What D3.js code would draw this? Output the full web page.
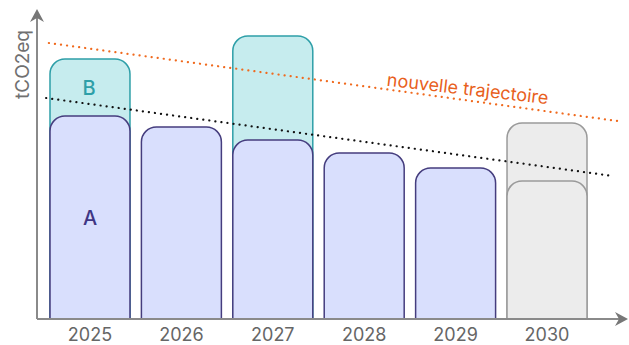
<!DOCTYPE html>
<html><head><meta charset="utf-8">
<script src="https://cdn.jsdelivr.net/npm/d3@7"></script>
<style>body{margin:0;background:#fff}svg{display:block}text{font-family:Inter,"Noto Sans",sans-serif}</style>
</head><body><svg id="c" width="629" height="345"></svg>
<script>
const years = ["2025","2026","2027","2028","2029","2030"];
const valuesA = [203, 192, 179, 166, 151, null];
const valuesB = [57, 0, 104, 0, 0, null];
const forecastOuter = [null, null, null, null, null, 196];
const forecastInner = [null, null, null, null, null, 138];
const newTrajectory = [[2024.55, 276], [2030.77, 198]];
const oldTrajectory = [[2024.52, 221], [2030.72, 143]];
const yLabel = "tCO2eq";
const trajLabel = "nouvelle trajectoire";

const svg = d3.select("#c");
const x = d3.scaleBand().domain(years).range([50, 587]).paddingInner(0.125).paddingOuter(0);
const y = d3.scaleLinear().domain([0, 300]).range([319, 19]);
const xl = d3.scaleLinear().domain([2025, 2030]).range([x("2025") + x.bandwidth()/2, x("2030") + x.bandwidth()/2]);
const r = 15;

function topRounded(x0, w, yTop, yBot) {
  const p = d3.path();
  p.moveTo(x0, yBot);
  p.lineTo(x0, yTop + r);
  p.arcTo(x0, yTop, x0 + r, yTop, r);
  p.lineTo(x0 + w - r, yTop);
  p.arcTo(x0 + w, yTop, x0 + w, yTop + r, r);
  p.lineTo(x0 + w, yBot);
  return p.toString();
}
const bw = x.bandwidth();
const base = y(0);

years.forEach((yr, i) => {
  if (valuesB[i]) {
    svg.append("path").attr("d", topRounded(x(yr), bw, y(valuesA[i] + valuesB[i]), base))
      .attr("fill", "#c6ecee").attr("stroke", "#2e9fa8").attr("stroke-width", 1.5);
  }
});
years.forEach((yr, i) => {
  if (valuesA[i] != null) {
    svg.append("path").attr("d", topRounded(x(yr), bw, y(valuesA[i]), base))
      .attr("fill", "#d9dffd").attr("stroke", "#453d7e").attr("stroke-width", 1.5);
  }
});
years.forEach((yr, i) => {
  if (forecastOuter[i] != null) {
    svg.append("path").attr("d", topRounded(x(yr), bw, y(forecastOuter[i]), base))
      .attr("fill", "#ececec").attr("stroke", "#9a9a9a").attr("stroke-width", 1.5);
    svg.append("path").attr("d", topRounded(x(yr), bw, y(forecastInner[i]), base))
      .attr("fill", "#ececec").attr("stroke", "#9a9a9a").attr("stroke-width", 1.5);
  }
});

svg.append("text").attr("x", x("2025") + bw/2).attr("y", y(valuesA[0]/2) + 7)
  .attr("text-anchor", "middle").attr("font-size", 20).attr("fill", "#3f3684").attr("font-weight", 500).text("A");
svg.append("text").attr("x", x("2025") + bw/2 - 1).attr("y", y(valuesA[0] + valuesB[0]*0.5) + 7)
  .attr("text-anchor", "middle").attr("font-size", 20).attr("fill", "#2e9fa8").attr("font-weight", 500).text("B");

const line = d3.line().x(d => xl(d[0])).y(d => y(d[1]));
svg.append("path").attr("d", line(oldTrajectory)).attr("fill", "none").attr("stroke", "#111")
  .attr("stroke-width", 2.2).attr("stroke-linecap", "round").attr("stroke-dasharray", "0.1 6");
svg.append("path").attr("d", line(newTrajectory)).attr("fill", "none").attr("stroke", "#f06a1e")
  .attr("stroke-width", 2.2).attr("stroke-linecap", "round").attr("stroke-dasharray", "0.1 6");

svg.append("text").attr("transform", "translate(467,95) rotate(6.5)")
  .attr("text-anchor", "middle").attr("font-size", 18).attr("fill", "#e8601c").text(trajLabel);

const axisColor = "#8a8a8a";
svg.append("line").attr("x1", 37).attr("x2", 37).attr("y1", base).attr("y2", 16)
  .attr("stroke", axisColor).attr("stroke-width", 2);
svg.append("path").attr("d", "M37,9 L30,22 L37,18 L44,22 Z").attr("fill", "#777");
svg.append("line").attr("x1", 37).attr("x2", 620).attr("y1", base).attr("y2", base)
  .attr("stroke", axisColor).attr("stroke-width", 2);
svg.append("path").attr("d", `M628,${base} L615,${base-7} L619,${base} L615,${base+7} Z`).attr("fill", "#777");

const xa = svg.append("g").attr("transform", `translate(0,${base})`)
  .call(d3.axisBottom(x).tickSize(0).tickPadding(0));
xa.select(".domain").remove();
xa.selectAll("text").attr("font-size", 18).attr("fill", "#666").attr("font-family", "Inter, sans-serif")
  .attr("dy", null).attr("y", 341 - base);

svg.append("text").attr("transform", "translate(29,64.5) rotate(-90)").attr("text-anchor", "middle")
  .attr("font-size", 19).attr("fill", "#707070").text(yLabel);
</script></body></html>
